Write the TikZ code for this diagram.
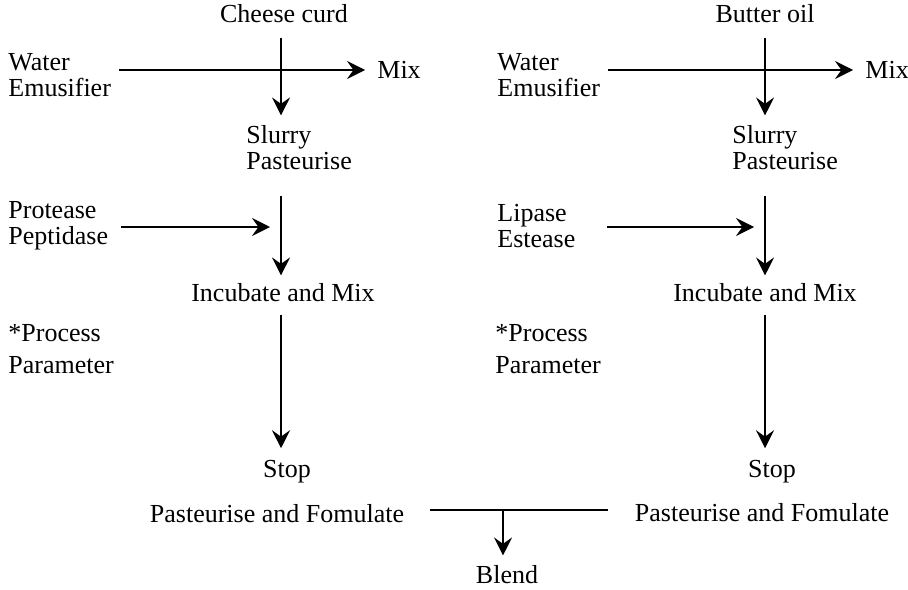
\documentclass[tikz,border=0pt]{standalone}
\usepackage{fontspec}
\setmainfont{Liberation Serif}
\usetikzlibrary{arrows.meta}
\begin{document}
\begin{tikzpicture}[x=0.5pt,y=-0.5pt,
  lbl/.style={inner sep=0pt,font=\fontsize{13}{13}\selectfont},
  lft/.style={lbl,anchor=west,align=left},
  ln/.style={line width=0.75pt},
  arr/.style={ln,-{Stealth[length=9pt,width=9pt,inset=3.2pt]}}]
\useasboundingbox (0,0) rectangle (908,589);
% left column
\node[lbl] (cheese) at (284,14) {Cheese curd};
\node[lft] (water1) at (8,75) {Water\\Emusifier};
\node[lft] (mix1) at (377,70) {Mix};
\node[lft] (slurry1) at (246,148) {Slurry\\Pasteurise};
\node[lft] (prot) at (8,226) {Protease\\Peptidase};
\node[lbl] (inc1) at (283,293) {Incubate and Mix};
\node[lft] (proc1) at (8,349) {*Process\\[3pt]Parameter};
\node[lbl] (stop1) at (287,472) {Stop};
\node[lbl] (past1) at (277,514) {Pasteurise and Fomulate};
% right column
\node[lbl] (butter) at (765,14) {Butter oil};
\node[lft] (water2) at (497,75) {Water\\Emusifier};
\node[lft] (mix2) at (865,70) {Mix};
\node[lft] (slurry2) at (732,148) {Slurry\\Pasteurise};
\node[lft] (lip) at (497,226) {Lipase\\Estease};
\node[lbl] (inc2) at (765,293) {Incubate and Mix};
\node[lft] (proc2) at (495,349) {*Process\\[3pt]Parameter};
\node[lbl] (stop2) at (772,472) {Stop};
\node[lbl] (past2) at (762,513) {Pasteurise and Fomulate};
\node[lbl] (blend) at (507,575) {Blend};
% axis and start coordinates
\coordinate (ax1) at (281,0);
\coordinate (ax2) at (765,0);
\coordinate (ha1) at (121,227);
\coordinate (ha2) at (607,227);
% left connectors
\draw[arr] ([xshift=4pt]water1.east |- mix1.west) -- ([xshift=-6pt]mix1.west);
\draw[arr] (cheese.south -| ax1) ++(0,14) -- ([yshift=5pt]slurry1.north -| ax1);
\draw[arr] ([yshift=-12.5pt]slurry1.south -| ax1) -- ([yshift=4pt]inc1.north -| ax1);
\draw[arr] (ha1) -- ([xshift=-5.5pt]ax1 |- ha1);
\draw[arr] ([yshift=-6pt]inc1.south -| ax1) -- ([yshift=6pt]stop1.north -| ax1);
% right connectors
\draw[arr] ([xshift=4pt]water2.east |- mix2.west) -- ([xshift=-6pt]mix2.west);
\draw[arr] (butter.south -| ax2) ++(0,14) -- ([yshift=5pt]slurry2.north -| ax2);
\draw[arr] ([yshift=-12.5pt]slurry2.south -| ax2) -- ([yshift=4pt]inc2.north -| ax2);
\draw[arr] (ha2) -- ([xshift=-5.5pt]ax2 |- ha2);
\draw[arr] ([yshift=-6pt]inc2.south -| ax2) -- ([yshift=6pt]stop2.north -| ax2);
% blend
\coordinate (bj) at (503,510);
\draw[ln] ([xshift=13pt]past1.east |- bj) -- ([xshift=-13.5pt]past2.west |- bj);
\draw[arr] (bj) -- ([yshift=5pt]blend.north -| bj);
\end{tikzpicture}
\end{document}
